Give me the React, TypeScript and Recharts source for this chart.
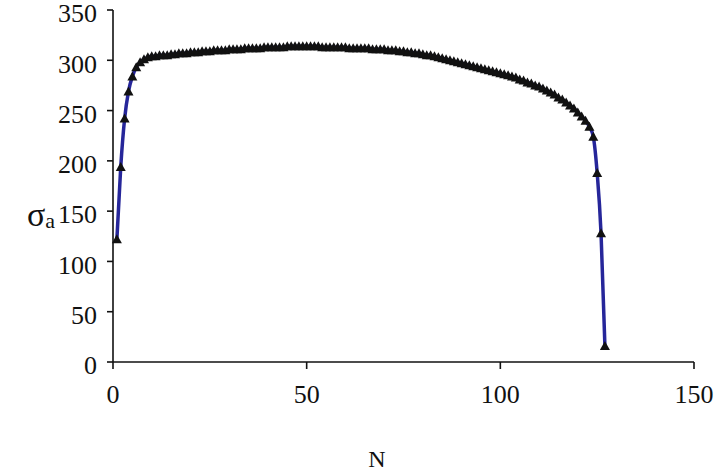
import { Label, Line, LineChart, XAxis, YAxis } from 'recharts'

// cycle number N (one point per cycle)
const N_VALUES = [
  1, 2, 3, 4, 5, 6, 7, 8, 9, 10, 11, 12, 13, 14, 15, 16, 17, 18, 19, 20,
  21, 22, 23, 24, 25, 26, 27, 28, 29, 30, 31, 32, 33, 34, 35, 36, 37, 38, 39, 40,
  41, 42, 43, 44, 45, 46, 47, 48, 49, 50, 51, 52, 53, 54, 55, 56, 57, 58, 59, 60,
  61, 62, 63, 64, 65, 66, 67, 68, 69, 70, 71, 72, 73, 74, 75, 76, 77, 78, 79, 80,
  81, 82, 83, 84, 85, 86, 87, 88, 89, 90, 91, 92, 93, 94, 95, 96, 97, 98, 99, 100,
  101, 102, 103, 104, 105, 106, 107, 108, 109, 110, 111, 112, 113, 114, 115, 116, 117, 118, 119, 120,
  121, 122, 123, 124, 125, 126, 127,
]

// stress amplitude
const SIGMA_A = [
  122, 194, 242, 269, 284, 293, 298, 301, 303, 304,
  304, 305, 305, 305, 306, 306, 307, 307, 307, 308,
  308, 308, 309, 309, 309, 310, 310, 310, 310, 311,
  311, 311, 311, 312, 312, 312, 312, 312, 313, 313,
  313, 313, 313, 313, 314, 314, 314, 314, 314, 314,
  314, 314, 314, 313, 313, 313, 313, 313, 313, 313,
  312, 312, 312, 312, 312, 312, 311, 311, 311, 311,
  310, 310, 310, 309, 309, 308, 308, 307, 307, 306,
  305, 305, 304, 303, 302, 301, 300, 299, 298, 297,
  296, 295, 294, 293, 292, 291, 290, 289, 288, 287,
  286, 285, 284, 283, 281, 280, 278, 277, 275, 274,
  272, 270, 268, 266, 263, 261, 258, 255, 252, 248,
  244, 240, 234, 224, 188, 128, 16,
]

const X_TICKS = [0, 50, 100, 150]
const Y_TICKS = [0, 50, 100, 150, 200, 250, 300, 350]

const data = N_VALUES.map((n, i) => ({ n, sigma: SIGMA_A[i] }))

const FONT = '"Liberation Serif", "Times New Roman", serif'
const axisStroke = { stroke: '#111', strokeWidth: 1.6 }
const tickStyle = { fill: '#111', fontSize: 26, fontFamily: FONT }

// black triangle marker, like the Excel series
function renderTriangle(props: any) {
  const { cx, cy, index } = props
  if (cx == null || cy == null) return <g key={`t-${index}`} />
  return (
    <polygon
      key={`t-${index}`}
      points={`${cx},${cy - 5} ${cx + 5},${cy + 4} ${cx - 5},${cy + 4}`}
      fill="#111"
    />
  )
}

export default function App() {
  return (
    <div style={{ position: 'absolute', left: 0, top: 0, background: '#fff' }}>
      <LineChart
        width={720}
        height={473}
        data={data}
        margin={{ top: 10, right: 26, bottom: 0, left: 0 }}
      >
        <XAxis
          type="number"
          dataKey="n"
          domain={[0, 150]}
          ticks={X_TICKS}
          interval={0}
          height={111}
          tickSize={7}
          tickMargin={16}
          axisLine={axisStroke}
          tickLine={axisStroke}
          tick={tickStyle}
        >
          <Label
            content={({ viewBox }: any) => (
              <text
                x={viewBox.x + 264}
                y={viewBox.y + 105}
                textAnchor="middle"
                fontFamily={FONT}
                fontSize={24}
                fill="#111"
              >
                N
              </text>
            )}
          />
        </XAxis>
        <YAxis
          type="number"
          domain={[0, 350]}
          ticks={Y_TICKS}
          interval={0}
          width={113}
          tickSize={6}
          tickMargin={10}
          axisLine={axisStroke}
          tickLine={axisStroke}
          tick={{ ...tickStyle, dy: 3 }}
        >
          <Label
            content={({ viewBox }: any) => (
              <text
                x={viewBox.x + 27}
                y={viewBox.y + viewBox.height / 2 + 40}
                fontFamily={FONT}
                fill="#111"
              >
                <tspan fontSize={34}>σ</tspan>
                <tspan fontSize={22} dy={2}>a</tspan>
              </text>
            )}
          />
        </YAxis>
        <Line
          dataKey="sigma"
          type="monotone"
          stroke="#26269a"
          strokeWidth={3.5}
          dot={renderTriangle}
          activeDot={false}
          isAnimationActive={false}
        />
      </LineChart>
    </div>
  )
}
